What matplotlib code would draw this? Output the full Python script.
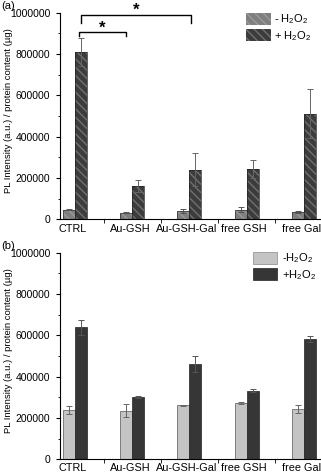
import matplotlib
matplotlib.use("Agg")
import matplotlib.pyplot as plt
import numpy as np
from matplotlib.patches import Patch

plt.rcParams['font.family'] = ['Liberation Sans', 'DejaVu Sans']
plt.rcParams['mathtext.fontset'] = 'custom'
plt.rcParams['mathtext.rm'] = 'Liberation Sans'
plt.rcParams['mathtext.it'] = 'Liberation Sans:italic'

categories = ["CTRL", "Au-GSH", "Au-GSH-Gal", "free GSH", "free Gal"]
yticks = [0, 200000, 400000, 600000, 800000, 1000000]

a_minus = [47000, 33000, 40000, 47000, 36000]
a_minus_err = [3000, 3000, 10000, 13000, 3000]
a_plus = [812000, 162000, 240000, 245000, 512000]
a_plus_err = [68000, 30000, 80000, 43000, 118000]

b_minus = [240000, 236000, 261000, 272000, 245000]
b_minus_err = [19000, 30000, 4000, 4000, 20000]
b_plus = [638000, 301000, 462000, 333000, 583000]
b_plus_err = [37000, 4000, 38000, 8000, 14000]

fig = plt.figure(figsize=(3.21, 4.75), dpi=100)
axa = fig.add_axes([0.187, 0.538, 0.813, 0.435])
axb = fig.add_axes([0.187, 0.033, 0.813, 0.435])

x = np.arange(len(categories))
w = 0.21

def style(ax):
    ax.set_xlim(-0.26, 4.3)
    ax.set_ylim(0, 1000000)
    ax.spines['top'].set_visible(False)
    ax.spines['right'].set_visible(False)
    ax.set_yticks(yticks)
    ax.set_yticklabels([str(v) for v in yticks], fontsize=7.5)
    ax.set_yticks(np.arange(100000, 1000000, 200000), minor=True)
    ax.set_xticks(x - 0.04)
    ax.set_xticklabels(categories, fontsize=7.8)
    ax.tick_params(axis='x', which='major', length=0, pad=3)
    ax.set_xticks([0.5, 1.5, 2.5, 3.5], minor=True)
    ax.tick_params(axis='x', which='minor', length=3, direction='out')
    ax.tick_params(axis='y', which='major', length=3, direction='out', pad=4)
    ax.tick_params(axis='y', which='minor', length=1.5, direction='out')
    ax.set_ylabel("PL Intensity (a.u.) / protein content (µg)", fontsize=6.8)
    ax.yaxis.set_label_coords(-0.18, 0.525)

# Panel (a)
c_minus_a = '#7f7f7f'
c_plus_a = '#3c3c3c'
axa.bar(x, a_minus, width=-w, align='edge', color=c_minus_a, hatch='\\\\\\\\', edgecolor='#9a9a9a', linewidth=0)
axa.bar(x, a_minus, width=-w, align='edge', color='none', edgecolor='#333333', linewidth=0.5)
axa.bar(x, a_plus, width=w, align='edge', color=c_plus_a, hatch='\\\\\\\\', edgecolor='#707070', linewidth=0)
axa.bar(x, a_plus, width=w, align='edge', color='none', edgecolor='#222222', linewidth=0.5)
axa.errorbar(x - w/2, a_minus, yerr=a_minus_err, fmt='none', ecolor='#555555', elinewidth=0.7, capsize=2, capthick=0.7)
axa.errorbar(x + w/2, a_plus, yerr=a_plus_err, fmt='none', ecolor='#666666', elinewidth=0.7, capsize=2, capthick=0.7)
style(axa)

# significance brackets
def bracket(ax, x1, x2, y, drop, star_y):
    ax.plot([x1, x1, x2, x2], [y - drop, y, y, y - drop], color='black', lw=1.0, clip_on=False)
    ax.text((x1 + x2) / 2, star_y, '*', ha='center', va='center', fontsize=12, fontweight='bold',
            clip_on=False)

bracket(axa, 0 + 0.08, 1 - 0.11, 908000, 18000, 925000)
bracket(axa, 0 + 0.11, 2 + 0.03, 990000, 40000, 1010000)

leg_a = [Patch(facecolor=c_minus_a, edgecolor='#9a9a9a', hatch='\\\\\\\\', linewidth=0),
         Patch(facecolor=c_plus_a, edgecolor='#707070', hatch='\\\\\\\\', linewidth=0)]
axa.legend(leg_a, ['- H$_2$O$_2$', '+ H$_2$O$_2$'], loc='upper right', bbox_to_anchor=(1.0, 1.05),
           frameon=False, fontsize=8, handlelength=2.2, handleheight=1.3, handletextpad=0.3, labelspacing=0.25)

# Panel (b)
c_minus_b = '#c4c4c4'
c_plus_b = '#363636'
axb.bar(x, b_minus, width=-w, align='edge', color=c_minus_b, edgecolor='#555555', linewidth=0.5)
axb.bar(x, b_plus, width=w, align='edge', color=c_plus_b, edgecolor='#222222', linewidth=0.5)
axb.errorbar(x - w/2, b_minus, yerr=b_minus_err, fmt='none', ecolor='#666666', elinewidth=0.7, capsize=2, capthick=0.7)
axb.errorbar(x + w/2, b_plus, yerr=b_plus_err, fmt='none', ecolor='#555555', elinewidth=0.7, capsize=2, capthick=0.7)
style(axb)

leg_b = [Patch(facecolor=c_minus_b, edgecolor='#888888', linewidth=0.5),
         Patch(facecolor=c_plus_b, edgecolor='#222222', linewidth=0.5)]
axb.legend(leg_b, ['-H$_2$O$_2$', '+H$_2$O$_2$'], loc='upper right', bbox_to_anchor=(1.02, 1.055),
           frameon=False, fontsize=8, handlelength=2.2, handleheight=1.3, handletextpad=0.45, labelspacing=0.25)

fig.text(0.003, 0.998, '(a)', fontsize=8, va='top', ha='left')
fig.text(0.003, 0.492, '(b)', fontsize=8, va='top', ha='left')

fig.savefig('out.png', dpi=100)
